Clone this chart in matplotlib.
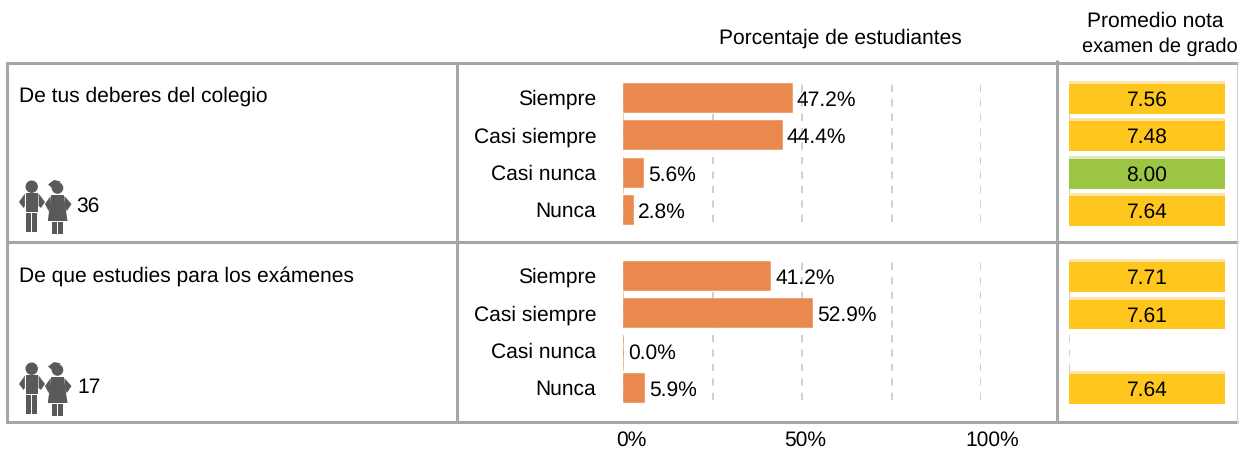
import matplotlib
matplotlib.use("Agg")
import matplotlib.pyplot as plt
from matplotlib.patches import Circle, Polygon, Rectangle

plt.rcParams['font.family'] = ['Liberation Sans', 'DejaVu Sans']
plt.rcParams['font.size'] = 15.4
plt.rcParams['text.hinting'] = 'no_hinting'
plt.rcParams['text.hinting_factor'] = 1

W, H = 1245, 450

questions = ["De tus deberes del colegio", "De que estudies para los exámenes"]
students = [36, 17]
categories = ["Siempre", "Casi siempre", "Casi nunca", "Nunca"]
pct_deberes = [47.2, 44.4, 5.6, 2.8]
pct_examenes = [41.2, 52.9, 0.0, 5.9]
nota_deberes = [7.56, 7.48, 8.00, 7.64]
nota_examenes = [7.71, 7.61, None, 7.64]
grid_ticks = [0, 25, 50, 75, 100]
axis_labels = ["0%", "50%", "100%"]

ORANGE = "#E9894D"
YELLOW = "#FFC61E"
YELLOW_TOP = "#FBE3A9"
GREEN = "#9DC544"
GREEN_TOP = "#DCEAC0"
FRAME = "#A6A6A6"
GRID = "#CCCCCC"
ICON = "#595959"
STEP = 37.4


def px_axes(left, right, top, bottom):
    return fig.add_axes([left / W, 1 - bottom / H, (right - left) / W, (bottom - top) / H])


def draw_icon(ax, dy):
    # boy
    ax.add_patch(Circle((31.7, 186.7 + dy), 6.2, fc=ICON, ec="none"))
    ax.add_patch(Polygon([(25.5, 193 + dy), (38, 193 + dy), (38, 212 + dy), (25.5, 212 + dy)], fc=ICON, ec="none"))
    ax.add_patch(Polygon([(24.9, 193.5 + dy), (19, 202 + dy), (23.5, 208 + dy), (24.9, 206 + dy)], fc=ICON, ec="none"))
    ax.add_patch(Polygon([(38.6, 193.5 + dy), (45, 202 + dy), (41, 208 + dy), (38.6, 206 + dy)], fc=ICON, ec="none"))
    ax.add_patch(Rectangle((26, 212.5 + dy), 4.8, 19.5, fc=ICON, ec="none"))
    ax.add_patch(Rectangle((32.4, 212.5 + dy), 4.8, 19.5, fc=ICON, ec="none"))
    # girl
    ax.add_patch(Circle((57.5, 188 + dy), 5.8, fc=ICON, ec="none"))
    ax.add_patch(Polygon([(48, 184.5 + dy), (54, 180 + dy), (61, 181.5 + dy), (56, 185 + dy), (52, 188 + dy)], fc=ICON, ec="none"))
    ax.add_patch(Polygon([(51.2, 195 + dy), (63.8, 195 + dy), (67.5, 221 + dy), (47.8, 221 + dy)], fc=ICON, ec="none"))
    ax.add_patch(Polygon([(50.6, 196 + dy), (45, 204 + dy), (48.5, 211 + dy), (50.3, 208 + dy)], fc=ICON, ec="none"))
    ax.add_patch(Polygon([(64.4, 196 + dy), (71.5, 204 + dy), (67, 211 + dy), (65.2, 208 + dy)], fc=ICON, ec="none"))
    ax.add_patch(Rectangle((52, 221.5 + dy), 4.8, 12, fc=ICON, ec="none"))
    ax.add_patch(Rectangle((58.4, 221.5 + dy), 4.8, 12, fc=ICON, ec="none"))


def draw_pct(pct, top, bottom, first):
    ax = px_axes(623, 981, top, bottom)
    y = list(range(len(categories)))
    ax.barh(y, pct, height=0.77, color=ORANGE, edgecolor=ORANGE, lw=0.4, zorder=3, clip_on=False)
    for yi, v in zip(y, pct):
        ax.text(v + 1.4, yi + 0.02, f"{v:.1f}%", va="center_baseline", ha="left", color="black", zorder=4)
    ax.set_xlim(0, 100)
    ax.set_ylim((bottom - first) / STEP, (top - first) / STEP)
    ax.set_xticks(grid_ticks)
    ax.set_yticks(y, categories, va="center_baseline")
    ax.tick_params(axis="x", length=0, labelbottom=False)
    ax.tick_params(axis="y", length=0, pad=19.4)
    ax.grid(axis="x", color=GRID, lw=1.3, ls=(0, (4, 4)), zorder=1)
    ax.patch.set_alpha(0)
    for s in ax.spines.values():
        s.set_visible(False)


def draw_nota(nota, top, bottom, first):
    ax = px_axes(1069, 1225, top, bottom)
    ax.set_xlim(0, 1)
    ax.set_ylim((bottom - first) / STEP, (top - first) / STEP)
    ax.set_xticks([0])
    ax.set_yticks([])
    ax.tick_params(axis="x", length=0, labelbottom=False)
    ax.grid(axis="x", color=GRID, lw=1.3, ls=(0, (4, 4)), zorder=1)
    ax.patch.set_alpha(0)
    for s in ax.spines.values():
        s.set_visible(False)
    for i, v in enumerate(nota):
        if v is None:
            continue
        c, c_top = (GREEN, GREEN_TOP) if v >= 8 else (YELLOW, YELLOW_TOP)
        ax.barh(i, 1, height=0.875, color=c, zorder=3, clip_on=False)
        ax.barh(i - 0.3975, 1, height=0.08, color=c_top, zorder=3, clip_on=False)
        ax.text(0.5, i + 0.02, f"{v:.2f}", ha="center", va="center_baseline", zorder=4)


fig = plt.figure(figsize=(W / 100, H / 100), dpi=100)

# frame, headers and icons go in a pixel overlay
bg = fig.add_axes([0, 0, 1, 1])
bg.set_xlim(0, W)
bg.set_ylim(H, 0)
bg.axis("off")
for yy in [63, 242, 422]:
    bg.plot([6, 1238], [yy, yy], color=FRAME, lw=2.2, solid_capstyle="butt")
bg.plot([7, 7], [62, 423], color=FRAME, lw=2.2, solid_capstyle="butt")
bg.plot([457, 457], [62, 423], color=FRAME, lw=2.2, solid_capstyle="butt")
bg.plot([1057, 1057], [60, 423], color=FRAME, lw=2.2, solid_capstyle="butt")
bg.plot([1237, 1237], [62, 423], color="#D0D0D0", lw=0.8)

bg.text(840, 38, "Porcentaje de estudiantes", ha="center", va="center")
bg.text(1155, 21, "Promedio nota", ha="center", va="center")
bg.text(1160, 47, "examen de grado", ha="center", va="center", fontsize=14.7)

for i, (q, n) in enumerate(zip(questions, students)):
    bg.text(19, 96 + 180 * i, q, va="center")
    bg.text(77 + i - 1, 206 + 182 * i, str(n), va="center")
    draw_icon(bg, 182 * i)

for x, lab in zip([631, 805, 992], axis_labels):
    bg.text(x, 440, lab, ha="center", va="center")

draw_pct(pct_deberes, 80, 222, 97.4)
draw_pct(pct_examenes, 260, 400, 275.4)
draw_nota(nota_deberes, 80, 222, 97.4)
draw_nota(nota_examenes, 260, 400, 275.6)

fig.savefig("out.png", dpi=100)
